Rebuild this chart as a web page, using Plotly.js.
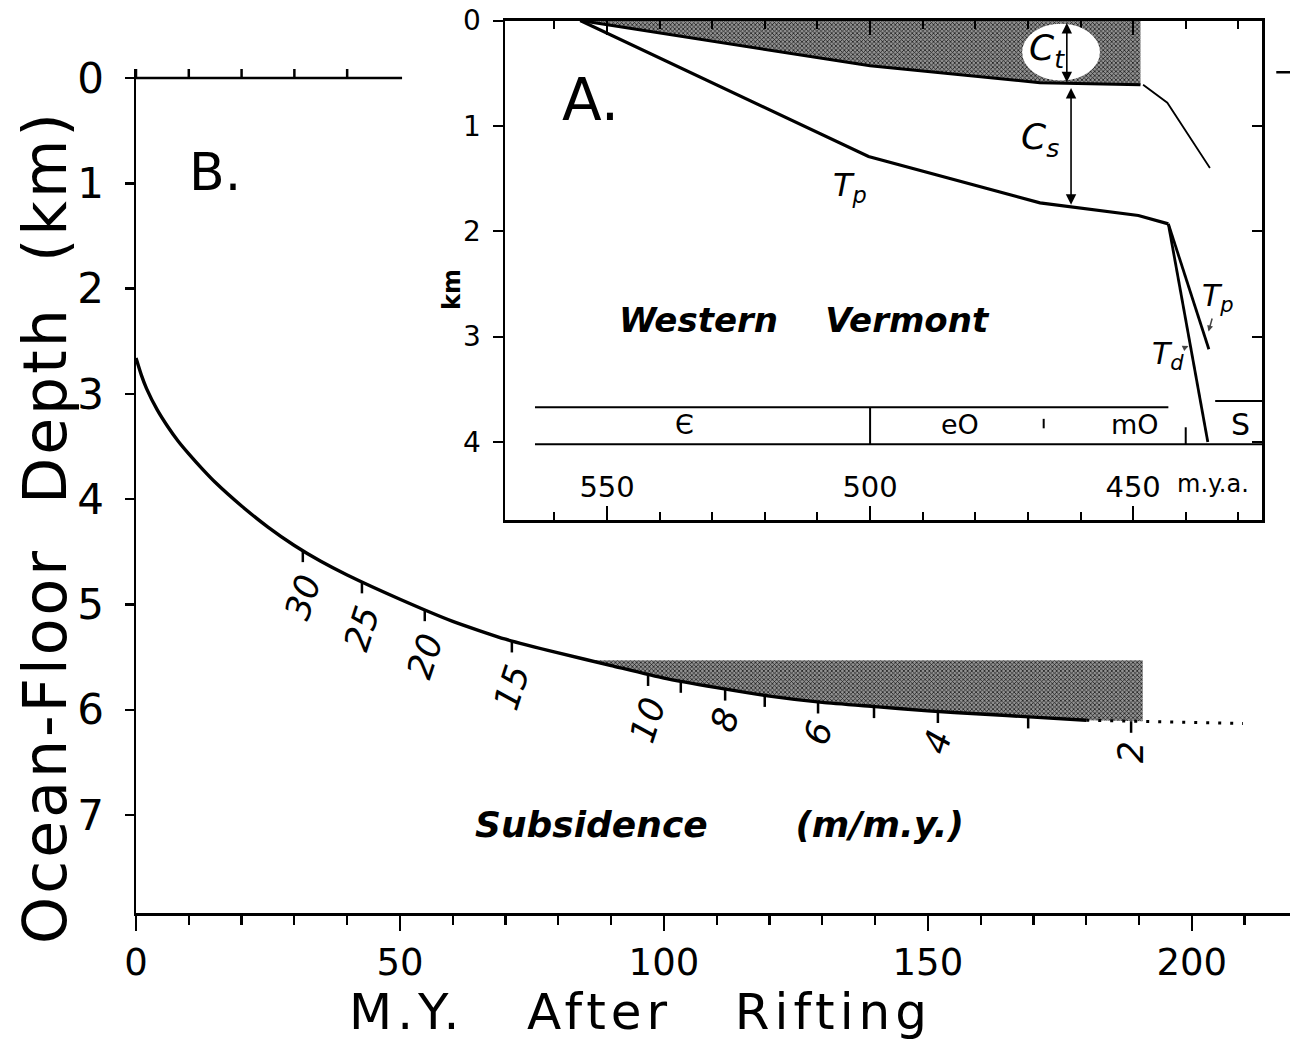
<!DOCTYPE html>
<html><head><meta charset="utf-8">
<script src="https://cdn.plot.ly/plotly-3.0.1.min.js"></script>
<style>html,body{margin:0;padding:0;background:#fff}#chart{width:1290px;height:1044px}</style>
</head><body><div id="chart"></div>
<script>
// ---------- Panel B: ocean-floor subsidence ----------
const riftAgeMY    = [0, 1, 2, 4, 6, 8, 10, 12.5, 15, 20, 25, 30, 35, 40, 50, 60, 70, 80, 90, 100, 110, 120, 130, 140, 150, 160, 170, 180];
const floorDepthKm = [2.66, 2.82, 2.95, 3.15, 3.31, 3.45, 3.57, 3.71, 3.84, 4.065, 4.265, 4.44, 4.59, 4.72, 4.95, 5.16, 5.33, 5.46, 5.58, 5.70, 5.79, 5.87, 5.93, 5.97, 6.01, 6.04, 6.07, 6.10];
const dottedAgeMY    = [180, 209.7];
const dottedDepthKm  = [6.10, 6.13];
const sedimentTopKm     = 5.53;
const sedimentStartMY   = 86;
const sedimentEndMY     = 190.7;
const sedimentBaseEndKm = 6.11;
const rateValues = [30, 25, 20, 15, 10, 9, 8, 7, 6, 5, 4, 3, 2];
const rateAgeMY  = [31.6, 42.8, 54.7, 71.2, 97, 103.2, 111.6, 119.1, 129.2, 139.8, 151.9, 169, 188.5];
const labelledRates = [30, 25, 20, 15, 10, 8, 6, 4, 2];
const topAxisTicksMY = [0, 10, 20, 30, 40];
const topAxisEndMY = 50.4;
const rightEdgeMarkMY = [216.0, 218.6];
const xTickVals = [0, 50, 100, 150, 200];
const yTickVals = [0, 1, 2, 3, 4, 5, 6, 7];

// ---------- Panel A: Western Vermont ----------
const ctBaseAge   = [555.1, 500, 467.7, 449.6, 448.6];
const ctBaseDepth = [0, 0.43, 0.59, 0.61, 0.61];
const shelfAge    = [448.1, 443.5, 435.4];
const shelfDepth  = [0.61, 0.78, 1.40];
const tpAge   = [555.1, 550, 500.3, 467.7, 449, 443.3];
const tpDepth = [0, 0.12, 1.29, 1.73, 1.85, 1.93];
const tp2Age   = [443.3, 435.6];
const tp2Depth = [1.93, 3.12];
const tdAge    = [443.3, 435.8];
const tdDepth  = [1.93, 4.0];
const periodNames    = ["Є", "eO", "mO", "S"];
const periodLabelAge = [535.2, 482.9, 449.6, 429.6];
const periodBarStart = 563.7, periodBarTopEnd = 443.3, periodBarEnd = 425.5;
const silurianTopStart = 434.4;
const periodTopKm = 3.67, periodBaseKm = 4.02, silurianTopKm = 3.61, periodLabelKm = 3.83;
const periodBoundaryAge = [500];
const periodMinorAge = [467, 440];
const insetTickVals = [550, 500, 450];
const insetTickText = ["550", "500", "450"];
const ctArrowAge = 462.6, csArrowAge = 461.8;

function interp(xs, ys, x) {
  for (let i = 0; i < xs.length - 1; i++) {
    const a = xs[i], b = xs[i + 1];
    if ((x - a) * (x - b) <= 0) {
      const f = (b === a) ? 0 : (x - a) / (b - a);
      return ys[i] + f * (ys[i + 1] - ys[i]);
    }
  }
  return ys[ys.length - 1];
}

const fullAge = riftAgeMY.concat(dottedAgeMY.slice(1));
const fullDepth = floorDepthKm.concat(dottedDepthKm.slice(1));

const pattern = {shape: 'x', fgcolor: '#151515', bgcolor: '#929292', size: 3, solidity: 0.42};
const traces = [];

// sediment wedge (panel B)
(function () {
  const px = [sedimentStartMY, sedimentEndMY, sedimentEndMY];
  const py = [sedimentTopKm, sedimentTopKm, sedimentBaseEndKm];
  for (let i = riftAgeMY.length - 1; i >= 0; i--) {
    if (riftAgeMY[i] > sedimentStartMY) { px.push(riftAgeMY[i]); py.push(floorDepthKm[i]); }
  }
  px.push(sedimentStartMY); py.push(interp(riftAgeMY, floorDepthKm, sedimentStartMY));
  traces.push({x: px, y: py, xaxis: 'x', yaxis: 'y', mode: 'lines', fill: 'toself',
    fillcolor: '#7a7a7a', fillpattern: pattern, line: {width: 0, color: 'rgba(0,0,0,0)'}, hoverinfo: 'skip'});
})();

// depth curve
traces.push({x: riftAgeMY, y: floorDepthKm, xaxis: 'x', yaxis: 'y', mode: 'lines',
  line: {color: '#000', width: 3.4, shape: 'spline', smoothing: 0.5}, hoverinfo: 'skip'});
traces.push({x: dottedAgeMY, y: dottedDepthKm, xaxis: 'x', yaxis: 'y', mode: 'lines',
  line: {color: '#000', width: 3, dash: '3px,9px'}, hoverinfo: 'skip'});

// subsidence-rate ticks
(function () {
  const tx = [], ty = [];
  rateAgeMY.forEach(t => { const d = interp(fullAge, fullDepth, t); tx.push(t, t, null); ty.push(d, d + 0.11, null); });
  traces.push({x: tx, y: ty, xaxis: 'x', yaxis: 'y', mode: 'lines', line: {color: '#000', width: 2.5}, hoverinfo: 'skip'});
})();

// partial top axis (and its stray end mark at the right edge)
(function () {
  const tx = [0, topAxisEndMY, null, rightEdgeMarkMY[0], rightEdgeMarkMY[1], null], ty = [0, 0, null, -0.055, -0.055, null];
  topAxisTicksMY.forEach(t => { tx.push(t, t, null); ty.push(0, -0.085, null); });
  traces.push({x: tx, y: ty, xaxis: 'x', yaxis: 'y', mode: 'lines', line: {color: '#000', width: 2.5}, hoverinfo: 'skip'});
})();

// Panel A: Ct wedge
traces.push({x: [ctBaseAge[0], ctBaseAge[ctBaseAge.length - 1]].concat(ctBaseAge.slice().reverse()),
  y: [0, 0].concat(ctBaseDepth.slice().reverse()), xaxis: 'x2', yaxis: 'y2', mode: 'lines', fill: 'toself',
  fillcolor: '#7a7a7a', fillpattern: pattern, line: {width: 0, color: 'rgba(0,0,0,0)'}, hoverinfo: 'skip'});
traces.push({x: ctBaseAge, y: ctBaseDepth, xaxis: 'x2', yaxis: 'y2', mode: 'lines', line: {color: '#000', width: 3}, hoverinfo: 'skip'});
traces.push({x: shelfAge, y: shelfDepth, xaxis: 'x2', yaxis: 'y2', mode: 'lines', line: {color: '#000', width: 1.8}, hoverinfo: 'skip'});
traces.push({x: tpAge, y: tpDepth, xaxis: 'x2', yaxis: 'y2', mode: 'lines', line: {color: '#000', width: 3.2}, hoverinfo: 'skip'});
traces.push({x: tp2Age, y: tp2Depth, xaxis: 'x2', yaxis: 'y2', mode: 'lines', line: {color: '#000', width: 2.8}, hoverinfo: 'skip'});
traces.push({x: tdAge, y: tdDepth, xaxis: 'x2', yaxis: 'y2', mode: 'lines', line: {color: '#000', width: 2.8}, hoverinfo: 'skip'});

// period bar
(function () {
  const bx = [periodBarStart, periodBarTopEnd, null, periodBarStart, periodBarEnd, null, silurianTopStart, periodBarEnd, null];
  const by = [periodTopKm, periodTopKm, null, periodBaseKm, periodBaseKm, null, silurianTopKm, silurianTopKm, null];
  periodBoundaryAge.forEach(a => { bx.push(a, a, null); by.push(periodTopKm, periodBaseKm, null); });
  periodMinorAge.forEach((a, i) => { bx.push(a, a, null); by.push(i === 0 ? 3.78 : 3.86, i === 0 ? 3.87 : periodBaseKm, null); });
  traces.push({x: bx, y: by, xaxis: 'x2', yaxis: 'y2', mode: 'lines', line: {color: '#000', width: 2}, hoverinfo: 'skip'});
})();
traces.push({x: [], y: [], xaxis: 'x2', yaxis: 'y3', mode: 'lines', hoverinfo: 'skip'});

const ann = [];
const F = 'DejaVu Sans';
const NB = '\u00a0';
const spaced = (s, px) => '<span style="letter-spacing:' + px + 'px">' + s + '</span>';
ann.push({xref: 'paper', yref: 'paper', x: 45 / 1290, y: (1044 - 527) / 1044, xanchor: 'center', yanchor: 'middle',
  text: spaced('Ocean-Floor' + NB + NB + 'Depth' + NB + NB + '(km)', 3), textangle: -90, showarrow: false, font: {family: F, size: 60}});
ann.push({xref: 'paper', yref: 'paper', x: 640 / 1290, y: (1044 - 1012) / 1044, xanchor: 'center', yanchor: 'middle',
  text: spaced('M.Y.' + NB + NB + NB + 'After' + NB + NB + NB + 'Rifting', 5), showarrow: false, font: {family: F, size: 50}});
ann.push({xref: 'x', yref: 'y', x: 15, y: 0.89, text: 'B.', showarrow: false, font: {family: F, size: 52}});
ann.push({xref: 'x', yref: 'y', x: 110.5, y: 7.09, text: 'Subsidence' + NB.repeat(7) + '(m/m.y.)', showarrow: false,
  font: {family: F, size: 36, style: 'italic', weight: 'bold'}});
rateValues.forEach((r, i) => {
  if (labelledRates.indexOf(r) < 0) return;
  const t = rateAgeMY[i];
  const lab = String(r);
  ann.push({xref: 'x', yref: 'y', x: t, y: interp(fullAge, fullDepth, t), text: lab, showarrow: false,
    textangle: lab === '2' ? -90 : -72, yshift: -(16 + 15 * lab.length), font: {family: F, size: 35, style: 'italic'}});
});

// Panel A annotations
ann.push({xref: 'paper', yref: 'paper', x: 452 / 1290, y: (1044 - 290) / 1044, xanchor: 'center', yanchor: 'middle',
  text: 'km', textangle: -90, showarrow: false, font: {family: F, size: 24, weight: 'bold'}});
ann.push({xref: 'x2', yref: 'y2', x: 553.2, y: 0.75, text: 'A.', showarrow: false, font: {family: F, size: 58}});
ann.push({xref: 'x2', yref: 'y2', x: 512.5, y: 2.84, text: 'Western' + NB.repeat(4) + 'Vermont', showarrow: false,
  font: {family: F, size: 34, style: 'italic', weight: 'bold'}});
ann.push({xref: 'x2', yref: 'y2', x: 503.8, y: 1.58, text: 'T<sub>p</sub>', showarrow: false, font: {family: F, size: 32, style: 'italic'}});
ann.push({xref: 'x2', yref: 'y2', x: 467.7, y: 1.13, text: 'C<sub>s</sub>', showarrow: false, font: {family: F, size: 36, style: 'italic'}});
ann.push({xref: 'x2', yref: 'y2', x: 466.4, y: 0.28, text: 'C<sub>t</sub>', showarrow: false, font: {family: F, size: 36, style: 'italic'}});
ann.push({xref: 'x2', yref: 'y2', axref: 'x2', ayref: 'y2', x: ctArrowAge, y: interp(ctBaseAge, ctBaseDepth, ctArrowAge) - 0.01,
  ax: ctArrowAge, ay: 0.01, text: '', showarrow: true, arrowside: 'end+start', arrowhead: 2, startarrowhead: 2,
  arrowsize: 1.3, startarrowsize: 1.3, arrowwidth: 1.6, arrowcolor: '#000'});
ann.push({xref: 'x2', yref: 'y2', axref: 'x2', ayref: 'y2', x: csArrowAge, y: interp(tpAge, tpDepth, csArrowAge) - 0.02,
  ax: csArrowAge, ay: interp(ctBaseAge, ctBaseDepth, csArrowAge) + 0.03, text: '', showarrow: true, arrowside: 'end+start',
  arrowhead: 2, startarrowhead: 2, arrowsize: 1.3, startarrowsize: 1.3, arrowwidth: 1.6, arrowcolor: '#000'});
ann.push({xref: 'x2', yref: 'y2', x: interp(tdDepth, tdAge, 3.08), y: 3.08, ax: -22, ay: 10, text: 'T<sub>d</sub>',
  showarrow: true, arrowhead: 2, arrowsize: 0.8, arrowwidth: 1.5, standoff: 2, font: {family: F, size: 30, style: 'italic'}});
ann.push({xref: 'x2', yref: 'y2', x: interp(tp2Depth, tp2Age, 2.97) - 0.8, y: 2.97, ax: 10, ay: -36, text: 'T<sub>p</sub>',
  showarrow: true, arrowhead: 2, arrowsize: 0.8, arrowwidth: 1.5, standoff: 2, font: {family: F, size: 30, style: 'italic'}});
ann.push({xref: 'x2', yref: 'y2', x: 434.9, y: 4.40, text: 'm.y.a.', showarrow: false, font: {family: F, size: 24}});
periodNames.forEach((p, i) => {
  ann.push({xref: 'x2', yref: 'y2', x: periodLabelAge[i], y: periodLabelKm, text: p, showarrow: false,
    font: {family: F, size: p === 'S' ? 30 : 27}});
});

const layout = {
  width: 1290, height: 1044, margin: {l: 0, r: 0, t: 0, b: 0},
  paper_bgcolor: '#fff', plot_bgcolor: 'rgba(0,0,0,0)', showlegend: false,
  font: {family: F, color: '#000'},
  xaxis: {domain: [136 / 1290, 1], range: [0, 218.6], anchor: 'y', showline: true, linewidth: 2.5, linecolor: '#000',
    ticks: 'outside', tickvals: xTickVals, ticklen: 15, tickwidth: 2.5, tickcolor: '#000',
    minor: {dtick: 10, tick0: 0, ticks: 'outside', ticklen: 9, tickwidth: 2.2, tickcolor: '#000'},
    showgrid: false, zeroline: false, tickfont: {family: F, size: 37, color: '#000'}, ticklabelstandoff: 0, fixedrange: true},
  yaxis: {domain: [131 / 1044, (1044 - 68.5) / 1044], range: [7.93, -0.09], anchor: 'x', showline: true, linewidth: 2.5,
    linecolor: '#000', ticks: 'outside', tickvals: yTickVals, ticklen: 9, tickwidth: 2.5, tickcolor: '#000',
    tickfont: {family: F, size: 42, color: '#000'}, ticklabelstandoff: 12, showgrid: false, zeroline: false, fixedrange: true},
  xaxis2: {domain: [505 / 1290, 1262 / 1290], range: [569.4, 425.5], anchor: 'y2', showline: true, mirror: 'ticks',
    linewidth: 2.5, linecolor: '#000', ticks: 'inside', tickvals: insetTickVals, ticktext: insetTickText, ticklen: 14,
    tickwidth: 2, tickcolor: '#000', minor: {dtick: 10, tick0: 450, ticks: 'inside', ticklen: 8, tickwidth: 2, tickcolor: '#000'},
    ticklabelposition: 'inside', ticklabelstandoff: 6, tickfont: {family: F, size: 29, color: '#000'}, showgrid: false, zeroline: false, fixedrange: true},
  yaxis2: {domain: [(1044 - 520) / 1044, (1044 - 20.5) / 1044], range: [4.74, 0], anchor: 'x2', showline: true, mirror: true,
    linewidth: 2.5, linecolor: '#000', ticks: 'outside', dtick: 1, tick0: 0, ticklen: 10, tickwidth: 2, tickcolor: '#000',
    tickfont: {family: F, size: 28, color: '#000'}, ticklabelstandoff: 6,
    showgrid: false, zeroline: false, fixedrange: true},
  yaxis3: {overlaying: 'y2', anchor: 'x2', side: 'right', range: [4.74, 0], ticks: 'inside', dtick: 1, tick0: 0,
    ticklen: 10, tickwidth: 2, tickcolor: '#000', showticklabels: false, showline: false, showgrid: false, zeroline: false, fixedrange: true},
  shapes: [{type: 'circle', xref: 'x2', yref: 'y2', x0: 471.1, x1: 456.3, y0: 0.03, y1: 0.57,
    fillcolor: '#fff', line: {width: 0}, layer: 'above'}],
  annotations: ann
};

Plotly.newPlot('chart', traces, layout, {staticPlot: true, displayModeBar: false});
</script>
</body></html>
